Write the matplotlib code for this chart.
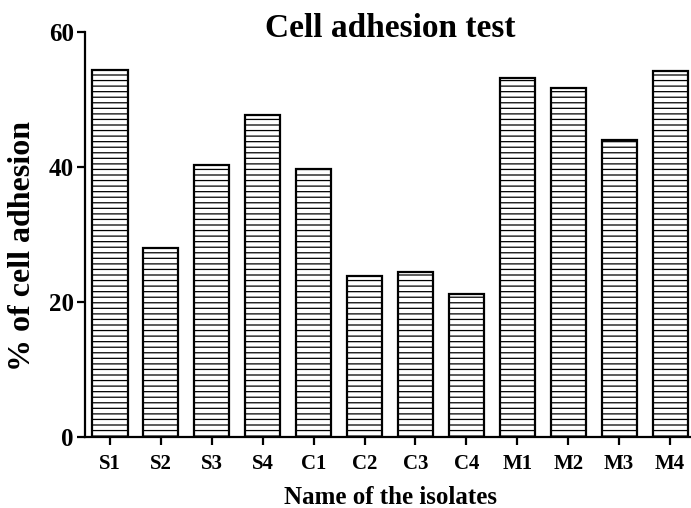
import numpy as np
import matplotlib.pyplot as plt

plt.rcParams['font.family'] = ['Liberation Serif', 'DejaVu Serif']
plt.rcParams['font.weight'] = 'bold'
plt.rcParams['hatch.linewidth'] = 0.9

isolates = ["S1", "S2", "S3", "S4", "C1", "C2", "C3", "C4", "M1", "M2", "M3", "M4"]
adhesion = [54.4, 28.0, 40.3, 47.7, 39.7, 23.9, 24.4, 21.2, 53.2, 51.7, 44.0, 54.2]

fig = plt.figure(figsize=(6.91, 5.08), dpi=100)
ax = fig.add_axes([0.123, 0.140, 0.877, 0.797])

x = np.arange(len(isolates))
ax.bar(x, adhesion, width=0.69, color="white", edgecolor="black",
       linewidth=1.6, hatch="---")

ax.set_xlim(-0.49, 11.41)
ax.set_ylim(0, 60)
ax.set_yticks([0, 20, 40, 60])
ax.set_xticks(x)
ax.set_xticklabels(isolates, fontsize=15, fontweight="bold")
ax.tick_params(axis="y", labelsize=18, width=1.6, length=6, direction="out", pad=2)
ax.tick_params(axis="x", width=1.6, length=6, direction="out", pad=6)
for lab in ax.get_yticklabels():
    lab.set_fontweight("bold")

ax.spines["top"].set_visible(False)
ax.spines["right"].set_visible(False)
ax.spines["left"].set_linewidth(1.6)
ax.spines["bottom"].set_linewidth(1.6)

fig.text(0.565, 0.943, "Cell adhesion test", ha="center", va="center",
         fontsize=24, fontweight="bold")
fig.text(0.565, 0.020, "Name of the isolates", ha="center", va="center",
         fontsize=18, fontweight="bold")
fig.text(0.033, 0.515, "% of cell adhesion", ha="center", va="center",
         rotation=90, fontsize=23, fontweight="bold")

fig.savefig("out.png", dpi=100)
